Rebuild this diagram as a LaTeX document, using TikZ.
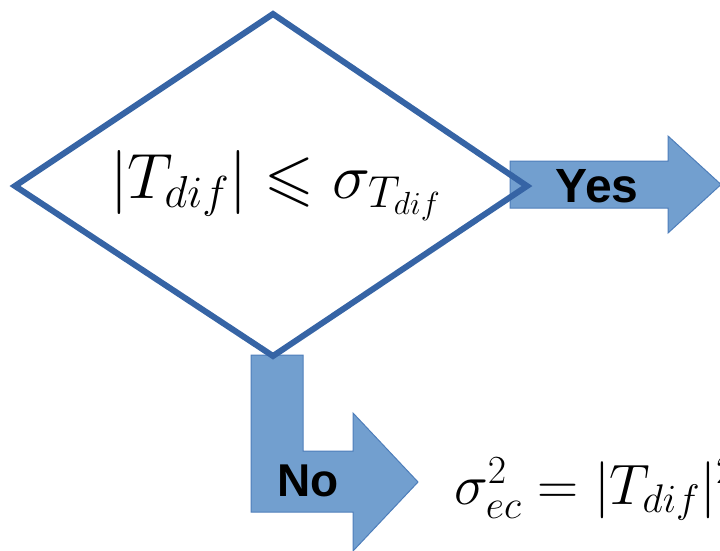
\RequirePackage{fix-cm}
\documentclass[tikz,border=0pt]{standalone}
\usepackage{amssymb}
\usepackage{fontspec}
\newfontfamily\arialfont{Liberation Sans}
\definecolor{arrowfill}{RGB}{114,159,207}
\definecolor{arrowedge}{RGB}{78,126,186}
\definecolor{diaedge}{RGB}{54,100,165}
\tikzset{
  blockarrow/.style={fill=arrowfill, draw=arrowedge, line width=1pt, line join=miter},
  decision/.style={draw=diaedge, line width=6pt, line join=miter},
  answer/.style={font=\arialfont\bfseries\fontsize{48}{52}\selectfont, inner sep=0pt, anchor=base},
  formula/.style={inner sep=0pt, anchor=base west}
}
\begin{document}
\begin{tikzpicture}[x=1pt,y=-1pt]
\useasboundingbox (0,0) rectangle (720,550);
\clip (0,0) rectangle (720,550);
% Yes arrow
\path[blockarrow] (510,161) -- (668,161) -- (668,136) -- (721,184.5) -- (668,233) -- (668,208) -- (510,208) -- cycle;
% No arrow
\path[blockarrow] (251,355) -- (303,355) -- (303,451) -- (353,451) -- (353,413) -- (418,482) -- (353,551) -- (353,512) -- (251,512) -- cycle;
% decision diamond
\coordinate (dtop) at (273,14);
\coordinate (dright) at (527,186);
\coordinate (dbottom) at (273,356);
\coordinate (dleft) at (15,186);
\draw[decision] (dtop) -- (dright) -- (dbottom) -- (dleft) -- cycle;
\node[formula] (cond) at (110,198) {\fontsize{64}{76}\selectfont $|T_{dif}| \leqslant \sigma_{T_{dif}}$};
\node[answer] (yes) at (597,202) {Yes};
\node[answer, font=\arialfont\bfseries\fontsize{46}{50}\selectfont] (no) at (308,496) {No};
\node[formula] (result) at (454,504) {\fontsize{57}{68}\selectfont $\sigma^2_{ec} = |T_{dif}|^2$};
\end{tikzpicture}
\end{document}
